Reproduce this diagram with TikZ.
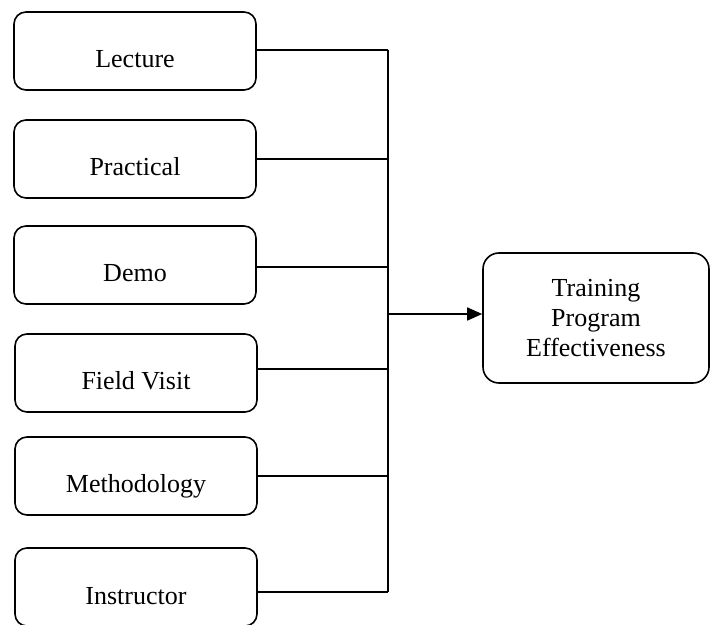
\documentclass[tikz,border=0pt]{standalone}
\usepackage{fontspec}
\setmainfont{Liberation Serif}
\usetikzlibrary{arrows.meta}
\begin{document}
\begin{tikzpicture}[x=0.5pt, y=-0.5pt, >={Triangle[length=7.5pt,width=6.5pt]}, line width=0.8pt,
  every node/.style={font=\fontsize{13}{15}\selectfont},
  factor/.style={draw, rounded corners=6pt, minimum width=121pt, minimum height=39pt, inner sep=0pt, text height=20pt, text depth=3pt},
  result/.style={draw, rounded corners=8pt, minimum width=113pt, minimum height=65pt, align=center, inner sep=0pt}]
  \useasboundingbox (0,0) rectangle (712,625);

  % 1. 左侧因素框
  \node[factor] (lec) at (135, 51) {Lecture};
  \node[factor] (pra) at (135, 159) {Practical};
  \node[factor] (dem) at (135, 265) {Demo};
  \node[factor] (fie) at (136, 373) {Field Visit};
  \node[factor] (met) at (136, 476) {Methodology};
  \node[factor] (ins) at (136, 587) {Instructor};

  % 2. 右侧结果框
  \node[result] (eff) at (596, 318) {Training\\Program\\Effectiveness};

  % 3. 汇总竖线
  \coordinate (bustop) at (388, 50);
  \coordinate (busbot) at (388, 592);
  \coordinate (busmid) at (388, 314);
  \draw (bustop) -- (busbot);

  \draw (lec.east |- bustop) -- (bustop);
  \draw (pra.east) -- (pra.east -| bustop);
  \draw ([yshift=-1pt]dem.east) -- ([yshift=-1pt]dem.east -| bustop);
  \draw ([yshift=2pt]fie.east) -- ([yshift=2pt]fie.east -| bustop);
  \draw (met.east) -- (met.east -| bustop);
  \draw (ins.east |- busbot) -- (busbot);

  % 4. 箭头
  \draw[->] (busmid) -- (eff.west |- busmid);
\end{tikzpicture}
\end{document}
